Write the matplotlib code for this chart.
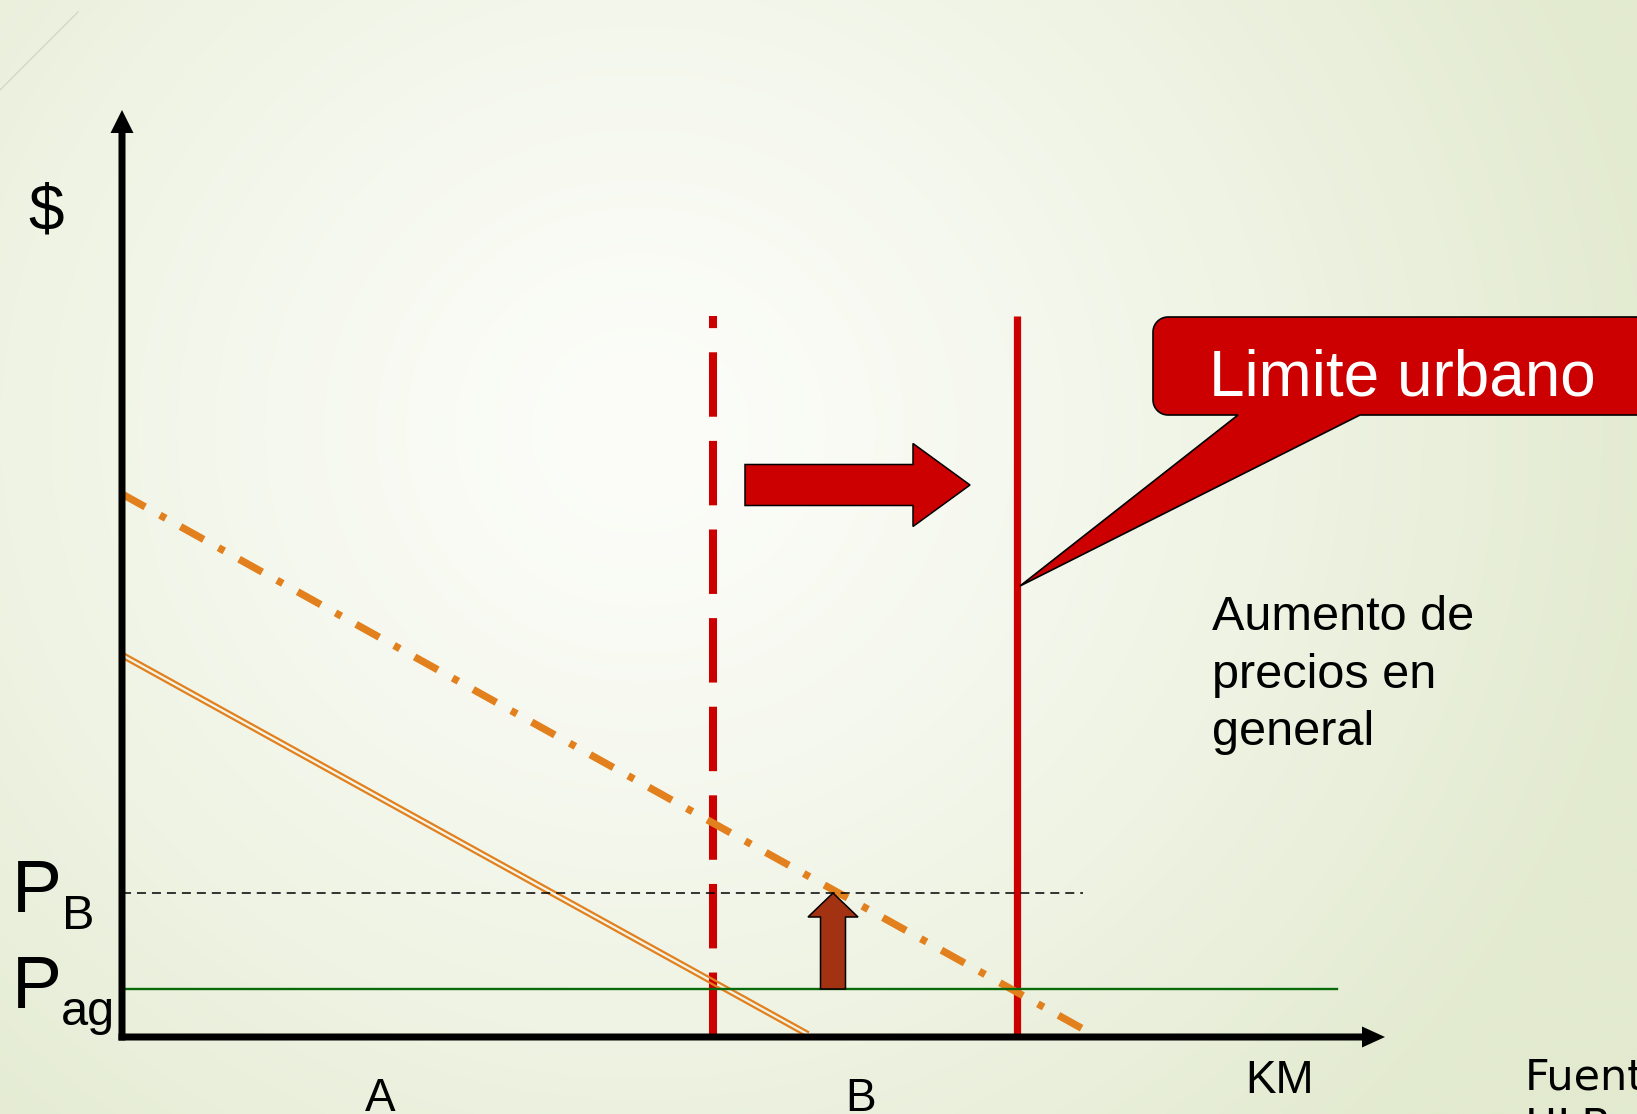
import numpy as np
import matplotlib
matplotlib.use("Agg")
import matplotlib.pyplot as plt
from matplotlib.patches import FancyArrow, Polygon

# ---------------- data (chart units: 1 unit = 100 px) ----------------
price_labels = ["P", "P"]
price_subs = ["B", "ag"]
price_B = 1.44          # P_B level
price_ag = 0.48         # agricultural price level
old_limit = 5.91        # old urban limit (km)
new_limit = 8.95        # new urban limit (km)
limit_top = 7.21
curve_new_x = [0.0, 9.61]     # bid-rent after increase (dash-dot)
curve_new_y = [5.43, 0.08]
curve_old_x = [0.0, 6.87]     # original bid-rent (double line)
curve_old_y = [3.82, 0.02]
pB_line_end = 9.61
pag_line_end = 12.15
x_axis_len = 12.63
y_axis_len = 9.27
zone_labels = ["A", "B"]
zone_x = [2.58, 7.39]
axis_x_label = "KM"
axis_y_label = "$"
callout_text = "Limite urbano"
note_lines = ["Aumento de", "precios en", "general"]
source_lines = ["Fuente:", "HLB, C"]

W, H = 1637, 1114
fig = plt.figure(figsize=(W / 100, H / 100), dpi=100)
ax = fig.add_axes([0, 0, 1, 1])
x0, x1 = -1.22, -1.22 + W / 100
y0, y1 = -0.77, -0.77 + H / 100
ax.set_xlim(x0, x1)
ax.set_ylim(y0, y1)
ax.axis("off")

# background radial gradient
ny, nx = 280, 410
yy, xx = np.mgrid[0:ny, 0:nx]
px = xx / (nx - 1) * W
py = yy / (ny - 1) * H
r = np.sqrt((px - 640) ** 2 + ((py - 430) * 1.05) ** 2) / 1050
t = np.clip(r, 0, 1) ** 1.3
c0 = np.array([252, 253, 249]) / 255
c1 = np.array([226, 234, 207]) / 255
img = c0[None, None, :] + (c1 - c0)[None, None, :] * t[..., None]
ax.imshow(img, extent=[x0, x1, y0, y1], origin="upper", aspect="auto",
          interpolation="bilinear", zorder=0)

# faint decorative diagonal line top-left
ax.plot([-1.22, -0.44], [9.47, 10.25], color="#D3D9C2", lw=1.0, zorder=1)

RED = "#CC0000"
ORANGE = "#E3801E"

# urban limits
ax.plot([old_limit, old_limit], [0, limit_top], color=RED, lw=5.8,
        linestyle=(0, (8, 3)), solid_capstyle="butt", dash_capstyle="butt", zorder=2)
ax.plot([new_limit, new_limit], [-0.02, limit_top], color=RED, lw=5.2,
        solid_capstyle="butt", zorder=2)

# bid rent curves
ax.plot(curve_new_x, curve_new_y, color=ORANGE, lw=5.3,
        linestyle=(0, (3.6, 2.3, 0.9, 2.3)), dash_capstyle="butt", zorder=3)
for off in (0.026, -0.026):
    ax.plot(curve_old_x, [v + off for v in curve_old_y], color=ORANGE, lw=1.6,
            solid_capstyle="butt", zorder=3)

# price levels
ax.plot([0, pB_line_end], [price_B, price_B], color="black", lw=1.1,
        linestyle=(0, (5.9, 3.9)), zorder=4)
ax.plot([0, pag_line_end], [price_ag, price_ag], color="#086A08", lw=1.7, zorder=4)

# arrows
ax.add_patch(FancyArrow(7.11, price_ag, 0, price_B - price_ag, width=0.25,
                        head_width=0.50, head_length=0.24, length_includes_head=True,
                        fc="#A33212", ec="black", lw=1.1, zorder=5))
ax.add_patch(FancyArrow(6.23, 5.52, 2.25, 0, width=0.41, head_width=0.83,
                        head_length=0.57, length_includes_head=True,
                        fc=RED, ec="black", lw=1.1, zorder=5))

# axes with arrow heads
ax.add_patch(FancyArrow(0, -0.035, 0, y_axis_len + 0.035, width=0.07,
                        head_width=0.23, head_length=0.23, length_includes_head=True,
                        fc="black", ec="none", zorder=6))
ax.add_patch(FancyArrow(-0.035, 0, x_axis_len + 0.035, 0, width=0.07,
                        head_width=0.21, head_length=0.23, length_includes_head=True,
                        fc="black", ec="none", zorder=6))

# callout
rr = 0.15
L, R, T, B = 10.31, 15.8, 7.20, 6.22
pts = []
for a in np.linspace(np.pi, 1.5 * np.pi, 10):
    pts.append((L + rr + rr * np.cos(a), B + rr + rr * np.sin(a)))
pts += [(11.16, B), (8.98, 4.51), (12.38, B), (R, B), (R, T)]
for a in np.linspace(0.5 * np.pi, np.pi, 10):
    pts.append((L + rr + rr * np.cos(a), T - rr + rr * np.sin(a)))
ax.add_patch(Polygon(pts, closed=True, fc=RED, ec="black", lw=1.2,
                     joinstyle="miter", zorder=7))
ax.text(12.80, 6.41, callout_text, color="white", fontsize=46,
        family="Liberation Sans", ha="center", va="baseline", zorder=8)

FONT = "Liberation Sans"
# axis labels
ax.text(-0.76, 8.25, axis_y_label, fontsize=46, family=FONT, ha="center",
        va="center", zorder=8)
ax.text(-1.10, 1.25, price_labels[0], fontsize=54, family=FONT, ha="left",
        va="baseline", zorder=8)
ax.text(-0.60, 1.08, price_subs[0], fontsize=35, family=FONT, ha="left",
        va="baseline", zorder=8)
ax.text(-1.10, 0.29, price_labels[1], fontsize=54, family=FONT, ha="left",
        va="baseline", zorder=8)
ax.text(-0.61, 0.12, price_subs[1], fontsize=35, family=FONT, ha="left",
        va="baseline", zorder=8)
for lab, xv in zip(zone_labels, zone_x):
    ax.text(xv, -0.74, lab, fontsize=33, family=FONT, ha="center",
            va="baseline", zorder=8)
ax.text(11.58, -0.56, axis_x_label, fontsize=33, family=FONT, ha="center",
        va="baseline", zorder=8)

# note
for i, line in enumerate(note_lines):
    ax.text(10.90, 4.07 - 0.575 * i, line, fontsize=35, family=FONT,
            ha="left", va="baseline", zorder=8)

# source (clipped by figure edge, as in the reference)
ax.text(14.03, -0.52, source_lines[0], fontsize=31, family="DejaVu Sans",
        ha="left", va="baseline", zorder=8)
ax.text(14.03, -1.02, source_lines[1], fontsize=31, family="DejaVu Sans",
        ha="left", va="baseline", zorder=8)

fig.savefig("out.png", dpi=100)
